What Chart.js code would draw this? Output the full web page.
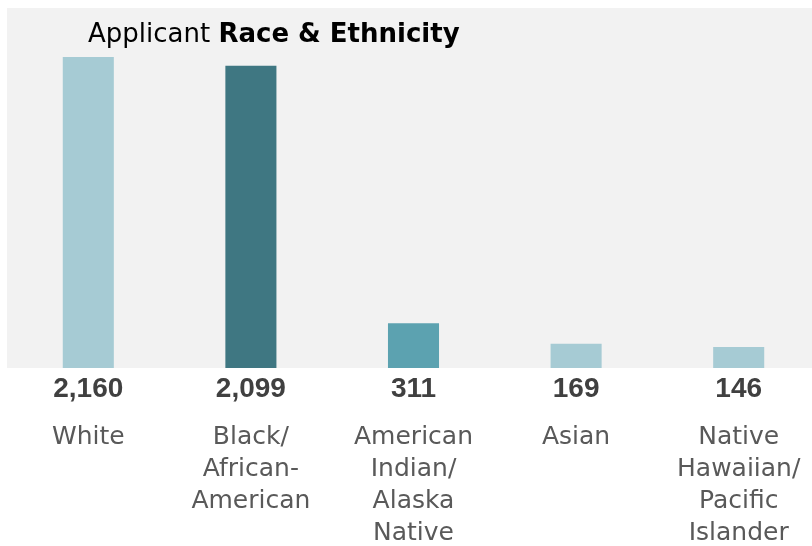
<!DOCTYPE html>
<html>
<head>
<meta charset="utf-8">
<script src="https://cdn.jsdelivr.net/npm/chart.js@4"></script>
<style>
    html, body { margin: 0; padding: 0; background: #fff; overflow: hidden; }
</style>
</head>
<body>
<canvas id="chart-raza" width="820" height="548"></canvas>
<script>
const categorias = [
    ['White'],
    ['Black/', 'African-', 'American'],
    ['American', 'Indian/', 'Alaska', 'Native'],
    ['Asian'],
    ['Native', 'Hawaiian/', 'Pacific', 'Islander']
];
const solicitantes = [2160, 2099, 311, 169, 146];
const colores = ['#a6cbd4', '#3f7782', '#5ca2b0', '#a6cbd4', '#a6cbd4'];

const fondoGris = {
    id: 'fondoGris',
    beforeDraw(chart) {
        const { ctx, chartArea } = chart;
        ctx.save();
        ctx.fillStyle = '#f2f2f2';
        ctx.fillRect(chartArea.left, chartArea.top, chartArea.right - chartArea.left, chartArea.bottom - chartArea.top);
        ctx.restore();
    },
    afterDraw(chart) {
        const { ctx, chartArea } = chart;
        ctx.save();
        // titulo con dos pesos
        ctx.textBaseline = 'alphabetic';
        ctx.fillStyle = '#000';
        ctx.font = '26px "DejaVu Sans"';
        const parte1 = 'Applicant ';
        ctx.fillText(parte1, 88, 42);
        const w = ctx.measureText(parte1).width;
        ctx.font = 'bold 26px "DejaVu Sans"';
        ctx.fillText('Race & Ethnicity', 88 + w, 42);

        // valores debajo de las barras
        const meta = chart.getDatasetMeta(0);
        ctx.font = 'bold 28px "Liberation Sans", Arial, sans-serif';
        ctx.fillStyle = '#404040';
        ctx.textAlign = 'center';
        ctx.textBaseline = 'middle';
        meta.data.forEach((bar, i) => {
            ctx.fillText(solicitantes[i].toLocaleString('en-US'), bar.x, chartArea.bottom + 21);
        });
        ctx.restore();
    }
};

new Chart(document.getElementById('chart-raza').getContext('2d'), {
    type: 'bar',
    data: {
        labels: categorias,
        datasets: [{
            data: solicitantes,
            backgroundColor: colores,
            barPercentage: 0.314,
            categoryPercentage: 1
        }]
    },
    options: {
        responsive: false,
        animation: false,
        layout: { padding: { left: 7, right: 0, top: 8, bottom: 0 } },
        plugins: {
            legend: { display: false },
            tooltip: { enabled: false }
        },
        scales: {
            x: {
                grid: { display: false },
                border: { display: false },
                ticks: {
                    color: '#595959',
                    padding: 45,
                    maxRotation: 0,
                    autoSkip: false,
                    font: { family: 'DejaVu Sans', size: 25, lineHeight: 1.28 }
                },
                afterFit(scale) {
                    scale.height = 180;
                    scale.paddingLeft = 0;
                    scale.paddingRight = 0;
                }
            },
            y: {
                display: false,
                min: 0,
                max: 2500
            }
        }
    },
    plugins: [fondoGris]
});
</script>
</body>
</html>
